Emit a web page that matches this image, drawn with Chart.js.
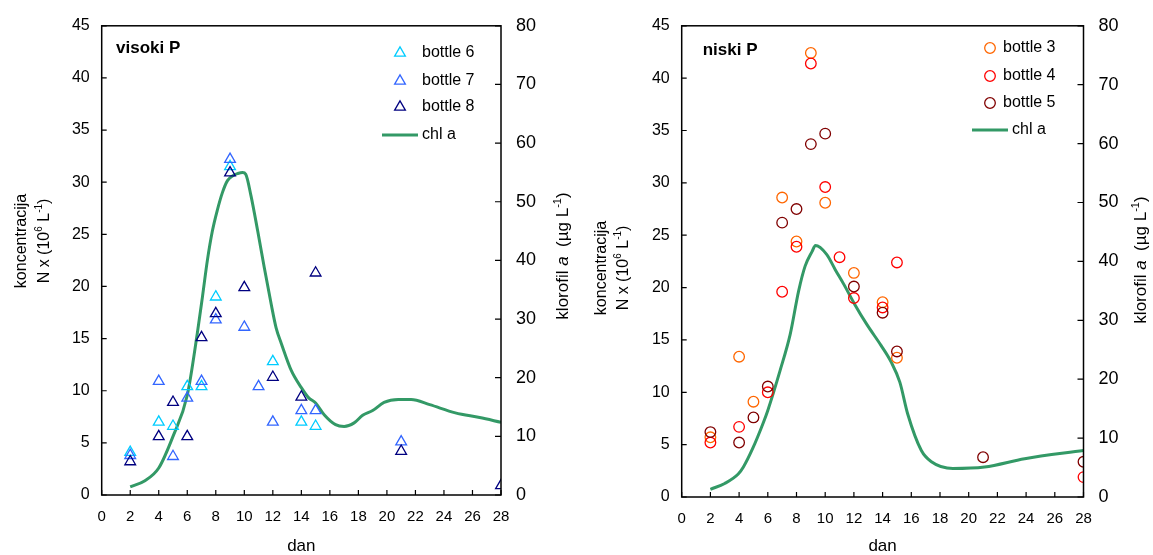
<!DOCTYPE html>
<html>
<head>
<meta charset="utf-8">
<script src="https://cdn.jsdelivr.net/npm/chart.js@4.4.0/dist/chart.umd.min.js"></script>
<style>
  body { margin: 0; background: #fff; }
  #wrap { position: relative; width: 1153px; height: 555px; }
  canvas { position: absolute; top: 0; }
</style>
</head>
<body>
<div id="wrap">
  <canvas id="visoki" width="576" height="555" style="left:0;width:576px;height:555px"></canvas>
  <canvas id="niski" width="577" height="555" style="left:576px;width:577px;height:555px"></canvas>
</div>
<script>
// axis ticks
const dayTicks = [0, 2, 4, 6, 8, 10, 12, 14, 16, 18, 20, 22, 24, 26, 28];
const concTicks = [0, 5, 10, 15, 20, 25, 30, 35, 40, 45];
const chlTicks = [0, 10, 20, 30, 40, 50, 60, 70, 80];

// visoki P  (N x 10^6 per L)
const visokiDays6 = [2, 4, 5, 6, 7, 8, 9, 12, 14, 15];
const visokiBottle6 = [4.1, 7.0, 6.6, 10.4, 10.4, 19.0, 31.5, 12.8, 7.0, 6.6];
const visokiDays7 = [2, 4, 5, 6, 7, 8, 9, 10, 11, 12, 14, 15, 21];
const visokiBottle7 = [3.8, 10.9, 3.7, 9.3, 10.9, 16.8, 32.2, 16.1, 10.4, 7.0, 8.1, 8.1, 5.1];
const visokiDays8 = [2, 4, 5, 6, 7, 8, 9, 10, 12, 14, 15, 21, 28];
const visokiBottle8 = [3.2, 5.6, 8.9, 5.6, 15.1, 17.4, 30.9, 19.9, 11.3, 9.4, 21.3, 4.2, 0.9];
// chl a (ug/L)
const visokiChlDays = [2, 3, 4, 5, 6, 6.7, 7.06, 7.41, 7.76, 8.1, 8.47, 8.82, 9.17, 9.53, 9.88, 10.1,
  10.47, 10.94, 11.4, 11.88, 12.23, 12.6, 13.3, 14, 14.5, 15, 15.6, 16.4, 17, 17.7, 18.3, 19, 19.8,
  20.8, 21.7, 23, 24.8, 26.5, 28];
const visokiChl = [1.4, 2.4, 4.6, 10, 17, 27.5, 33.7, 40, 45, 48.5, 51.6, 53.6, 54.4, 54.8, 55, 54.7,
  51, 45, 38.8, 32.6, 28.5, 25.8, 21.2, 18.3, 16.6, 15.7, 13.7, 12, 11.7, 12.3, 13.6, 14.4, 15.8,
  16.3, 16.3, 15.4, 14, 13.2, 12.4];

// niski P
const niskiDays3 = [2, 4, 5, 7, 8, 9, 10, 12, 14, 15];
const niskiBottle3 = [5.7, 13.4, 9.1, 28.6, 24.4, 42.4, 28.1, 21.4, 18.6, 13.3];
const niskiDays4 = [2, 4, 6, 7, 8, 9, 10, 11, 12, 14, 15, 28];
const niskiBottle4 = [5.2, 6.7, 10.0, 19.6, 23.9, 41.4, 29.6, 22.9, 19.0, 18.1, 22.4, 1.9];
const niskiDays5 = [2, 4, 5, 6, 7, 8, 9, 10, 12, 14, 15, 21, 28];
const niskiBottle5 = [6.2, 5.2, 7.6, 10.55, 26.2, 27.5, 33.7, 34.7, 20.1, 17.6, 13.9, 3.8, 3.36];
const niskiChlDays = [2, 3, 3.94, 4.3, 4.94, 5.7, 6, 6.86, 7.56, 8.15, 8.6, 9.09, 9.32, 10.1, 10.7,
  11.3, 12.06, 12.9, 13.9, 14.6, 15.2, 15.75, 16.7, 17.4, 18.9, 21.1, 23.9, 28];
const niskiChl = [1.3, 2.3, 3.9, 5.1, 8.2, 12.7, 14.7, 21.5, 27.6, 35, 39.2, 41.7, 42.7, 41.2, 38.6,
  36.1, 32.7, 29.3, 25.7, 22.9, 19.5, 14.1, 7.9, 6.0, 4.85, 5.1, 6.5, 7.9];

const FAMILY = "'Liberation Sans', Arial, sans-serif";
Chart.defaults.font.family = FAMILY;
Chart.defaults.color = '#000';

function pts(xs, ys) {
    return xs.map((x, i) => ({ x: x, y: ys[i] }));
}

function bottle(label, xs, ys, color, style, order) {
    return {
        label: label,
        data: pts(xs, ys),
        yAxisID: 'y',
        pointStyle: style,
        pointRadius: style === 'triangle' ? 6.2 : 5.3,
        pointBorderColor: color,
        borderColor: color,
        pointBackgroundColor: 'rgba(0,0,0,0)',
        backgroundColor: 'rgba(0,0,0,0)',
        pointBorderWidth: 1.3,
        borderWidth: 1.3,
        order: order
    };
}

function chlLine(xs, ys) {
    return {
        type: 'line',
        label: 'chl a',
        data: pts(xs, ys),
        yAxisID: 'y2',
        borderColor: '#339966',
        borderWidth: 3,
        pointRadius: 0,
        cubicInterpolationMode: 'monotone',
        fill: false,
        order: 5
    };
}

// text with italic / superscript pieces, centred on (cx, cy)
function drawRich(ctx, parts, cx, cy, rot, size) {
    const fontOf = st => (st === 'i' ? 'italic ' : '') + (st === 's' ? Math.round(size * 0.65) : size) + 'px ' + FAMILY;
    let total = 0;
    parts.forEach(p => { ctx.font = fontOf(p[1]); total += ctx.measureText(p[0]).width; });
    ctx.save();
    ctx.translate(cx, cy);
    ctx.rotate(rot);
    ctx.textAlign = 'left';
    ctx.textBaseline = 'alphabetic';
    ctx.fillStyle = '#000';
    let x = -total / 2;
    const base = size * 0.35;
    parts.forEach(p => {
        ctx.font = fontOf(p[1]);
        ctx.fillText(p[0], x, p[1] === 's' ? base - size * 0.42 : base);
        x += ctx.measureText(p[0]).width;
    });
    ctx.restore();
}

const concTitle1 = [['koncentracija', '']];
const concTitle2 = [['N x (10', ''], ['6', 's'], [' L', ''], ['-1', 's'], [')', '']];
const chlTitle = [['klorofil ', ''], ['a', 'i'], ['  (\u00b5g L', ''], ['-1', 's'], [')', '']];

// box round the plot, inward ticks, axis titles
const framePlugin = {
    id: 'frame',
    afterDraw(chart, args, o) {
        const ctx = chart.ctx, a = chart.chartArea, s = chart.scales;
        ctx.save();
        ctx.strokeStyle = '#000';
        ctx.lineWidth = 1.5;
        ctx.strokeRect(a.left, a.top, a.right - a.left, a.bottom - a.top);
        ctx.beginPath();
        s.x.ticks.forEach(t => {
            const p = s.x.getPixelForValue(t.value);
            ctx.moveTo(p, a.bottom); ctx.lineTo(p, a.bottom - 5);
        });
        s.y.ticks.forEach(t => {
            const p = s.y.getPixelForValue(t.value);
            ctx.moveTo(a.left, p); ctx.lineTo(a.left + 5, p);
        });
        s.y2.ticks.forEach(t => {
            const p = s.y2.getPixelForValue(t.value);
            ctx.moveTo(a.right, p); ctx.lineTo(a.right - 6, p);
        });
        ctx.lineWidth = 1.2;
        ctx.stroke();

        drawRich(ctx, concTitle1, o.left1, o.leftY, -Math.PI / 2, 16);
        drawRich(ctx, concTitle2, o.left2, o.leftY, -Math.PI / 2, 16);
        drawRich(ctx, chlTitle, o.rightX, o.rightY, -Math.PI / 2, 17);
        drawRich(ctx, [['dan', '']], (a.left + a.right) / 2, o.danY, 0, 17);

        ctx.font = 'bold 17px ' + FAMILY;
        ctx.textAlign = 'left';
        ctx.textBaseline = 'middle';
        ctx.fillStyle = '#000';
        ctx.fillText(o.name, o.nameX, o.nameY);
        ctx.restore();
    }
};

// legend inside the plot
const legendPlugin = {
    id: 'boxLegend',
    afterDraw(chart, args, o) {
        const ctx = chart.ctx;
        ctx.save();
        ctx.font = o.size + 'px ' + FAMILY;
        ctx.textBaseline = 'middle';
        ctx.textAlign = 'left';
        chart.data.datasets.forEach((ds, i) => {
            const y = o.rows[i];
            if (ds.type === 'line') {
                ctx.strokeStyle = ds.borderColor;
                ctx.lineWidth = ds.borderWidth;
                ctx.beginPath();
                ctx.moveTo(o.lineX0, y);
                ctx.lineTo(o.lineX1, y);
                ctx.stroke();
                ctx.fillStyle = '#000';
                ctx.fillText(ds.label, o.lineTextX, y);
            } else {
                ctx.strokeStyle = ds.borderColor;
                ctx.fillStyle = 'rgba(0,0,0,0)';
                ctx.lineWidth = ds.pointBorderWidth;
                Chart.helpers.drawPoint(ctx, {
                    pointStyle: ds.pointStyle, radius: ds.pointRadius, rotation: 0,
                    borderWidth: ds.pointBorderWidth
                }, o.markerX, y);
                ctx.fillStyle = '#000';
                ctx.fillText(ds.label, o.textX, y);
            }
        });
        ctx.restore();
    }
};

function makeChart(id, o) {
    return new Chart(document.getElementById(id), {
        type: 'scatter',
        data: { datasets: o.datasets },
        options: {
            responsive: false,
            animation: false,
            layout: { padding: { top: o.top, left: 0, right: 0, bottom: 0 } },
            plugins: {
                legend: { display: false },
                tooltip: { enabled: false },
                frame: o.frame,
                boxLegend: o.legend
            },
            scales: {
                x: {
                    type: 'linear', min: 0, max: 28,
                    afterBuildTicks: s => { s.ticks = dayTicks.map(v => ({ value: v })); },
                    afterFit: s => { s.height = o.xHeight; },
                    ticks: { font: { size: 15 }, padding: 13, maxRotation: 0, autoSkip: false },
                    grid: { display: false, drawTicks: false },
                    border: { display: false }
                },
                y: {
                    type: 'linear', position: 'left', min: 0, max: 45,
                    afterBuildTicks: s => { s.ticks = concTicks.map(v => ({ value: v })); },
                    afterFit: s => { s.width = o.leftWidth; },
                    ticks: { font: { size: 16 }, padding: 12 },
                    grid: { display: false, drawTicks: false },
                    border: { display: false }
                },
                y2: {
                    type: 'linear', position: 'right', min: 0, max: 80,
                    afterBuildTicks: s => { s.ticks = chlTicks.map(v => ({ value: v })); },
                    afterFit: s => { s.width = o.rightWidth; },
                    ticks: { font: { size: 18 }, padding: 15 },
                    grid: { display: false, drawTicks: false },
                    border: { display: false }
                }
            }
        },
        plugins: [framePlugin, legendPlugin]
    });
}

makeChart('visoki', {
    top: 22.7, xHeight: 60, leftWidth: 101.7, rightWidth: 75,
    datasets: [
        bottle('bottle 6', visokiDays6, visokiBottle6, '#00CCFF', 'triangle', 3),
        bottle('bottle 7', visokiDays7, visokiBottle7, '#3366FF', 'triangle', 2),
        bottle('bottle 8', visokiDays8, visokiBottle8, '#000080', 'triangle', 1),
        chlLine(visokiChlDays, visokiChl)
    ],
    frame: { name: 'visoki P', nameX: 116, nameY: 48, left1: 20, left2: 43, leftY: 241, rightX: 562, rightY: 256, danY: 545 },
    legend: { size: 16, rows: [53, 81, 107, 135], markerX: 400, textX: 422, lineX0: 382, lineX1: 418, lineTextX: 422 }
});

makeChart('niski', {
    top: 24.3, xHeight: 58, leftWidth: 105.7, rightWidth: 69.5,
    datasets: [
        bottle('bottle 3', niskiDays3, niskiBottle3, '#FF6600', 'circle', 3),
        bottle('bottle 4', niskiDays4, niskiBottle4, '#FF0000', 'circle', 2),
        bottle('bottle 5', niskiDays5, niskiBottle5, '#800000', 'circle', 1),
        chlLine(niskiChlDays, niskiChl)
    ],
    frame: { name: 'niski P', nameX: 126.7, nameY: 50, left1: 24, left2: 46, leftY: 268, rightX: 564, rightY: 260, danY: 545 },
    legend: { size: 16, rows: [48, 76, 103, 130], markerX: 414, textX: 427, lineX0: 396, lineX1: 432, lineTextX: 436 }
});
</script>
</body>
</html>
